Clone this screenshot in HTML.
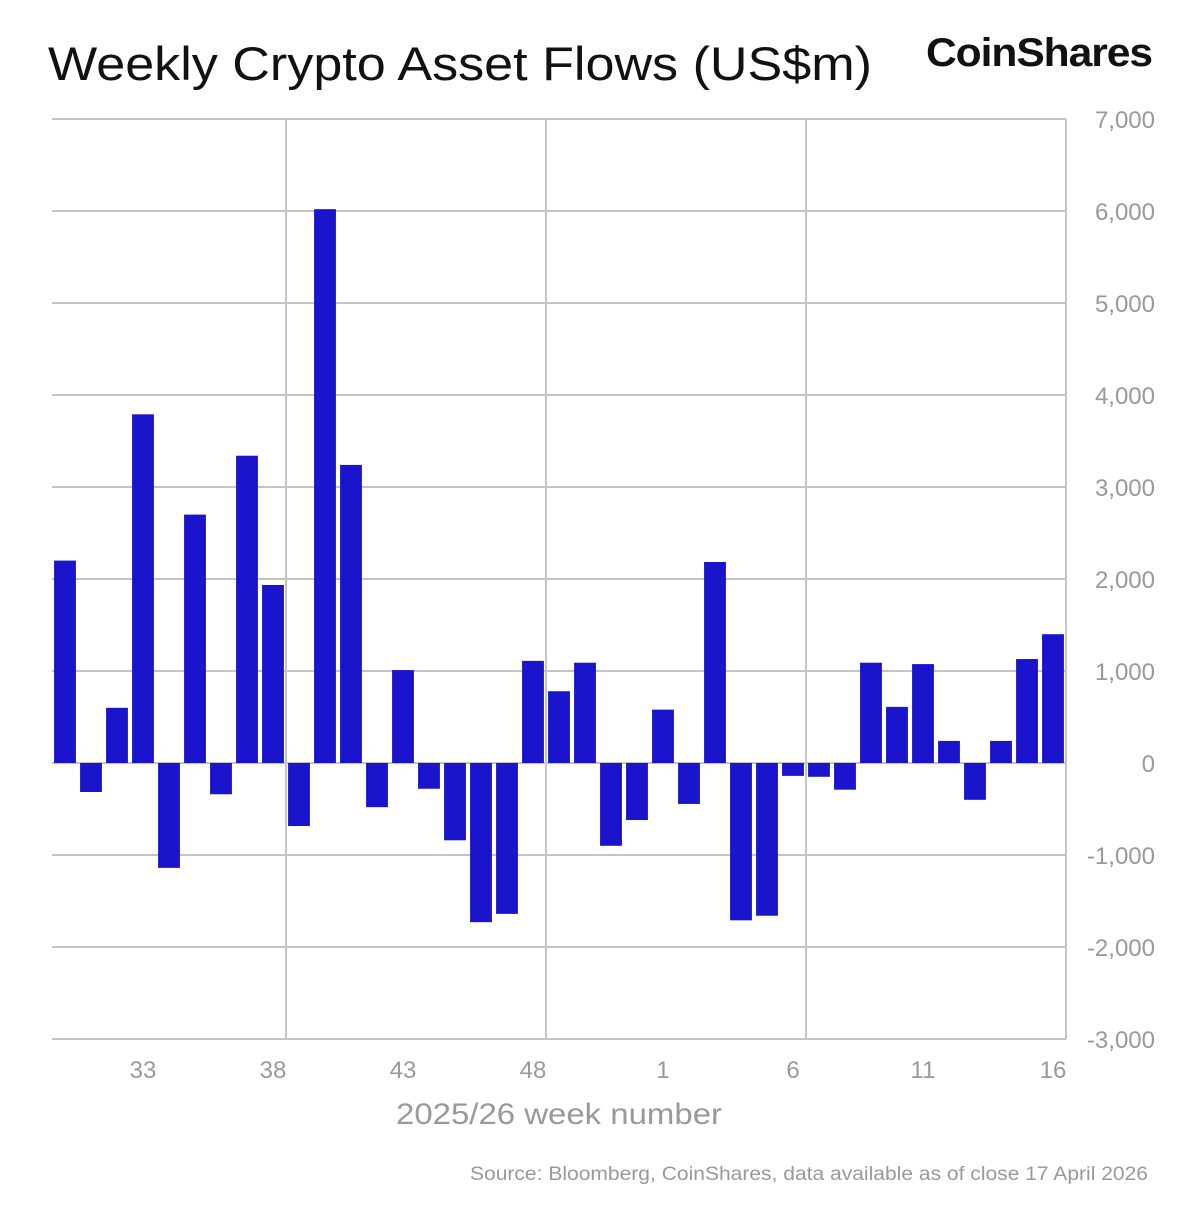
<!DOCTYPE html>
<html><head><meta charset="utf-8"><style>
body{margin:0;background:#fff;width:1200px;height:1202px;overflow:hidden;font-family:"Liberation Sans",sans-serif}
</style></head><body>
<svg width="1200" height="1202">
<text x="48" y="80" font-size="47" fill="#111" textLength="824" lengthAdjust="spacingAndGlyphs">Weekly Crypto Asset Flows (US$m)</text>
<text x="926" y="66" font-size="40" font-weight="bold" fill="#111" textLength="226" lengthAdjust="spacingAndGlyphs" letter-spacing="-1">CoinShares</text>
<g id="grid"></g><g id="bars"></g><g id="labels"></g>
<text x="396" y="1124" font-size="30" fill="#999" textLength="326" lengthAdjust="spacingAndGlyphs">2025/26 week number</text>
<text x="470" y="1180" font-size="19" fill="#999" textLength="678" lengthAdjust="spacingAndGlyphs">Source: Bloomberg, CoinShares, data available as of close 17 April 2026</text>
</svg>
<script>
const weeks=[30,31,32,33,34,35,36,37,38,39,40,41,42,43,44,45,46,47,48,49,50,51,52,1,2,3,4,5,6,7,8,9,10,11,12,13,14,15,16];
const flows=[2200,-315,600,3790,-1140,2700,-340,3340,1935,-685,6020,3240,-480,1010,-280,-840,-1730,-1640,1110,780,1090,-900,-620,580,-445,2185,-1710,-1660,-140,-150,-290,1090,610,1075,240,-400,240,1130,1400];
const yTicks=[7000,6000,5000,4000,3000,2000,1000,0,-1000,-2000,-3000];
const xLabelWeeks=[33,38,43,48,1,6,11,16];
const NS="http://www.w3.org/2000/svg";
const L=52,R=1066,T=119,B=1039,yMax=7000,yMin=-3000;
const y=v=>T+(yMax-v)/(yMax-yMin)*(B-T);
const step=(R-L)/weeks.length;
const xc=i=>L+(i+0.5)*step;
function mk(tag,attrs,parent){const e=document.createElementNS(NS,tag);for(const k in attrs)e.setAttribute(k,attrs[k]);document.getElementById(parent).appendChild(e);return e;}
yTicks.forEach(t=>{
 const l=mk('line',{x1:L,x2:R,y1:y(t),y2:y(t),stroke:'#c4c4c4','stroke-width':2},'grid');
 
 
 const tx=mk('text',{x:1155,y:y(t)+9,'font-size':24,fill:'#999','text-anchor':'end'},'labels');
 tx.textContent=t.toLocaleString('en-US');
 
 
});
for(let i=9;i<weeks.length;i+=10){
 const l=mk('line',{x1:L+i*step,x2:L+i*step,y1:T,y2:B,stroke:'#c4c4c4','stroke-width':2},'grid');
 
 
}
const ax=mk('line',{x1:R,x2:R,y1:T,y2:B,stroke:'#c4c4c4','stroke-width':2},'grid');


flows.forEach((v,i)=>{
 const w=step*0.84;
 const r=mk('rect',{x:xc(i)-w/2,y:Math.min(y(v),y(0)),width:w,height:Math.abs(y(v)-y(0)),fill:'#1a14cc'},'bars');
 
 
});
xLabelWeeks.forEach(wk=>{
 let i=weeks.indexOf(wk);
 const tx=mk('text',{x:xc(i),y:1078,'font-size':24,fill:'#999','text-anchor':'middle'},'labels');
 tx.textContent=wk;
 
 
});
</script>
</body></html>
